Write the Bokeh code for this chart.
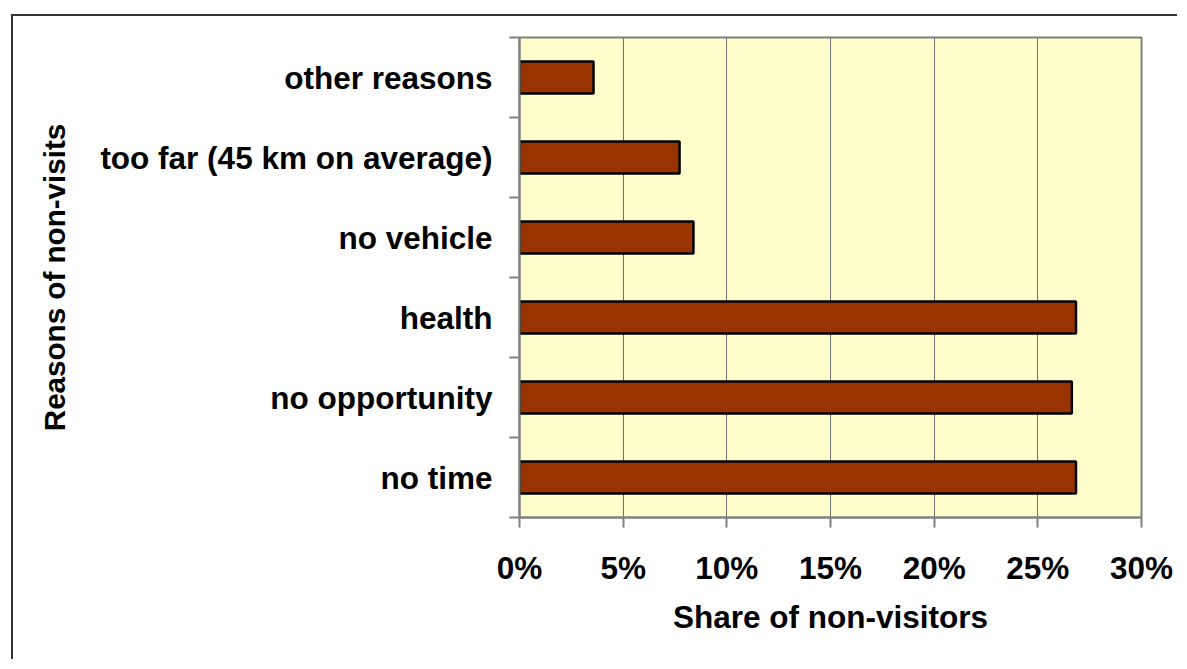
from bokeh.plotting import figure
from bokeh.models import FixedTicker, PrintfTickFormatter, Range1d
from bokeh.embed import file_html
from bokeh.resources import INLINE

categories = ["no time", "no opportunity", "health", "no vehicle",
              "too far (45 km on average)", "other reasons"]
shares = [26.84, 26.64, 26.84, 8.39, 7.72, 3.57]
x_ticks = [0, 5, 10, 15, 20, 25, 30]

positions = [i + 0.5 for i in range(len(categories))]
boundaries = list(range(len(categories) + 1))

FONT = "Liberation Sans"
FS = "31.5px"

p = figure(width=1166, height=645, output_backend="svg", toolbar_location=None,
           x_range=Range1d(0, 30), y_range=Range1d(0, len(categories)),
           min_border_left=506, min_border_top=21, min_border_right=38,
           min_border_bottom=144)
p.margin = (14, 0, 0, 11)
p.styles = {"border-left": "2px solid #333333", "border-top": "2px solid #333333"}

p.background_fill_color = "#FFFFCC"
p.border_fill_color = "white"
p.outline_line_color = "#808080"
p.outline_line_width = 2

p.hbar(y=positions, right=shares, left=0, height=0.4,
       fill_color="#993300", line_color="black", line_width=2.5)

# x axis
xa = p.xaxis[0]
xa.ticker = FixedTicker(ticks=x_ticks)
xa.formatter = PrintfTickFormatter(format="%d%%")
xa.major_tick_out = 10
xa.major_tick_in = 0
xa.major_tick_line_color = "#808080"
xa.major_tick_line_width = 2
xa.minor_tick_line_color = None
xa.axis_line_color = "#808080"
xa.axis_line_width = 2
xa.major_label_text_font = FONT
xa.major_label_text_font_style = "bold"
xa.major_label_text_font_size = FS
xa.major_label_text_color = "black"
xa.major_label_standoff = 22
xa.axis_label = "Share of non-visitors"
xa.axis_label_text_font = FONT
xa.axis_label_text_font_style = "bold"
xa.axis_label_text_font_size = FS
xa.axis_label_text_color = "black"
xa.axis_label_standoff = 10

# y axis
ya = p.yaxis[0]
ya.ticker = FixedTicker(ticks=positions, minor_ticks=boundaries)
ya.major_label_overrides = {pos: c for pos, c in zip(positions, categories)}
ya.major_tick_line_color = None
ya.minor_tick_out = 10
ya.minor_tick_in = 0
ya.minor_tick_line_color = "#808080"
ya.minor_tick_line_width = 2
ya.axis_line_color = "#808080"
ya.axis_line_width = 2
ya.major_label_text_font = FONT
ya.major_label_text_font_style = "bold"
ya.major_label_text_font_size = FS
ya.major_label_text_color = "black"
ya.major_label_standoff = 17
ya.axis_label = "Reasons of non-visits"
ya.axis_label_text_font = FONT
ya.axis_label_text_font_style = "bold"
ya.axis_label_text_font_size = "29.6px"
ya.axis_label_text_color = "black"
ya.axis_label_standoff = 26

p.xgrid.ticker = FixedTicker(ticks=x_ticks)
p.xgrid.grid_line_color = "#707070"
p.xgrid.grid_line_width = 1
p.ygrid.grid_line_color = None

open("out.html", "w").write(file_html(p, INLINE))
